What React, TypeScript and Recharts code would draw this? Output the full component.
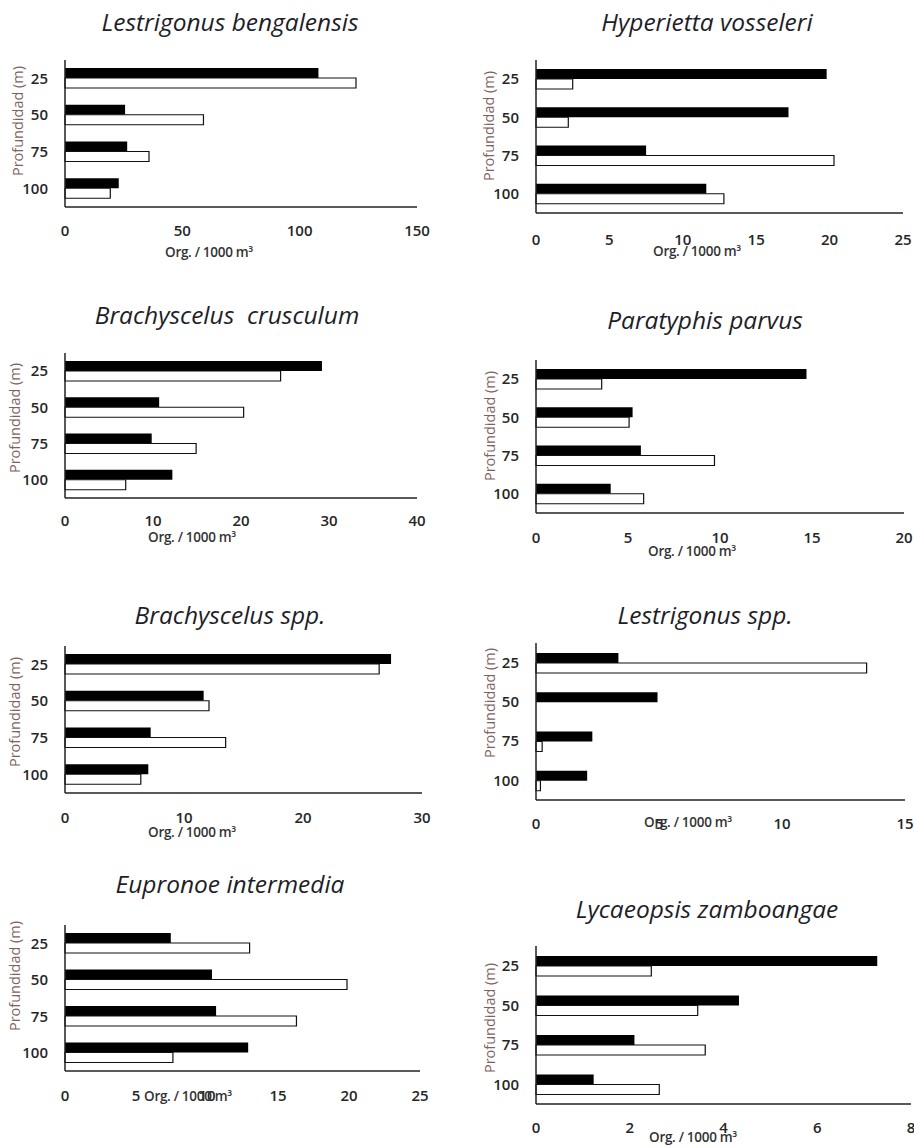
import React from 'react'
import { BarChart, Bar, XAxis, YAxis } from 'recharts'

const depths = ['25', '50', '75', '100']

const bengalensisFilled = [108, 25.6, 26.5, 22.9]
const bengalensisOpen = [124, 59, 35.8, 19.3]
const vosseleriFilled = [19.8, 17.2, 7.5, 11.6]
const vosseleriOpen = [2.5, 2.2, 20.3, 12.8]
const crusculumFilled = [29.2, 10.7, 9.85, 12.2]
const crusculumOpen = [24.5, 20.3, 14.9, 6.9]
const parvusFilled = [14.7, 5.25, 5.7, 4.06]
const parvusOpen = [3.57, 5.06, 9.7, 5.85]
const brachySppFilled = [27.4, 11.65, 7.2, 7.0]
const brachySppOpen = [26.4, 12.1, 13.5, 6.37]
const lestriSppFilled = [3.35, 4.94, 2.29, 2.08]
const lestriSppOpen = [13.44, 0, 0.25, 0.18]
const eupronoeFilled = [7.45, 10.35, 10.64, 12.9]
const eupronoeOpen = [13.0, 19.86, 16.3, 7.6]
const lycaeopsisFilled = [7.28, 4.33, 2.1, 1.23]
const lycaeopsisOpen = [2.46, 3.45, 3.61, 2.63]

const ticks150 = [0, 50, 100, 150]
const ticks25 = [0, 5, 10, 15, 20, 25]
const ticks40 = [0, 10, 20, 30, 40]
const ticks20 = [0, 5, 10, 15, 20]
const ticks30 = [0, 10, 20, 30]
const ticks15 = [0, 5, 10, 15]
const ticks8 = [0, 2, 4, 6, 8]

const yTitle = 'Profundidad (m)'
const xTitle = 'Org. / 1000 m³'

// plot boxes and label spots
const panels = [
  { title: 'Lestrigonus bengalensis', filled: bengalensisFilled, open: bengalensisOpen, ticks: ticks150,
    x: 65, y: 60, w: 352, h: 147, tx: 230, ty: 22, lx: 209, ly: 253, px: 18, py: 121, tm: 18 },
  { title: 'Hyperietta vosseleri', filled: vosseleriFilled, open: vosseleriOpen, ticks: ticks25,
    x: 536, y: 60, w: 367, h: 153, tx: 707, ty: 22, lx: 697, ly: 252, px: 489, py: 126, tm: 21 },
  { title: 'Brachyscelus  crusculum', filled: crusculumFilled, open: crusculumOpen, ticks: ticks40,
    x: 65, y: 353, w: 352, h: 145, tx: 227, ty: 315, lx: 192, ly: 538, px: 15, py: 418, tm: 17 },
  { title: 'Paratyphis parvus', filled: parvusFilled, open: parvusOpen, ticks: ticks20,
    x: 536, y: 360, w: 368, h: 153, tx: 705, ty: 320, lx: 692, ly: 552, px: 490, py: 426, tm: 19 },
  { title: 'Brachyscelus spp.', filled: brachySppFilled, open: brachySppOpen, ticks: ticks30,
    x: 65, y: 646, w: 357, h: 147, tx: 230, ty: 615, lx: 192, ly: 833, px: 15, py: 712, tm: 19 },
  { title: 'Lestrigonus spp.', filled: lestriSppFilled, open: lestriSppOpen, ticks: ticks15,
    x: 536, y: 643, w: 369, h: 157, tx: 705, ty: 615, lx: 688, ly: 823, px: 490, py: 703, tm: 18 },
  { title: 'Eupronoe intermedia', filled: eupronoeFilled, open: eupronoeOpen, ticks: ticks25,
    x: 65, y: 925, w: 355, h: 146, tx: 230, ty: 884, lx: 188, ly: 1097, px: 15, py: 976, tm: 19 },
  { title: 'Lycaeopsis zamboangae', filled: lycaeopsisFilled, open: lycaeopsisOpen, ticks: ticks8,
    x: 536, y: 946, w: 375, h: 158, tx: 707, ty: 909, lx: 693, ly: 1138, px: 490, py: 1018, tm: 18 },
]

const font = '"Open Sans", sans-serif'
const tickStyle = { fontSize: 15, fontWeight: 600, fill: '#262626', fontFamily: font }

function Panel({ p }: { p: (typeof panels)[number] }) {
  const data = depths.map((d, i) => ({ depth: d, filled: p.filled[i], open: p.open[i] }))
  const max = p.ticks[p.ticks.length - 1]
  return (
    <>
      <div style={{ position: 'absolute', left: p.tx, top: p.ty, transform: 'translate(-50%, -50%)',
        fontFamily: font, fontStyle: 'italic', fontSize: 24.5, color: '#1e1e28', whiteSpace: 'pre', lineHeight: 1 }}>
        {p.title}
      </div>
      <div style={{ position: 'absolute', left: p.x - 60, top: p.y - 5 }}>
        <BarChart layout="vertical" width={p.w + 75} height={p.h + 45} data={data}
          margin={{ top: 5, right: 15, left: 0, bottom: 0 }} barGap={0} barSize={10}>
          <XAxis type="number" domain={[0, max]} ticks={p.ticks} interval={0} height={40}
            axisLine={{ stroke: '#222', strokeWidth: 1.5 }} tickLine={false} tickSize={0}
            tickMargin={p.tm} tick={tickStyle} />
          <YAxis type="category" dataKey="depth" width={60}
            axisLine={{ stroke: '#222', strokeWidth: 1.5 }} tickLine={false} tickSize={0}
            tickMargin={17} tick={tickStyle} />
          <Bar dataKey="filled" fill="#000" isAnimationActive={false} />
          <Bar dataKey="open" fill="#fff" stroke="#111" strokeWidth={1.2} isAnimationActive={false} />
        </BarChart>
      </div>
      <div style={{ position: 'absolute', left: p.lx, top: p.ly, transform: 'translate(-50%, -50%)',
        fontFamily: font, fontSize: 13.5, fontWeight: 600, color: '#333', whiteSpace: 'pre', lineHeight: 1,
        letterSpacing: -0.3 }}>
        {xTitle}
      </div>
      <div style={{ position: 'absolute', left: p.px, top: p.py, transform: 'translate(-50%, -50%) rotate(-90deg)',
        fontFamily: font, fontSize: 14.5, color: '#7d625e', whiteSpace: 'pre', lineHeight: 1 }}>
        {yTitle}
      </div>
    </>
  )
}

export default function App() {
  return (
    <div style={{ position: 'absolute', left: 0, top: 0, width: 914, height: 1148, overflow: 'hidden', background: '#fff' }}>
      {panels.map(p => <Panel key={p.title} p={p} />)}
    </div>
  )
}
